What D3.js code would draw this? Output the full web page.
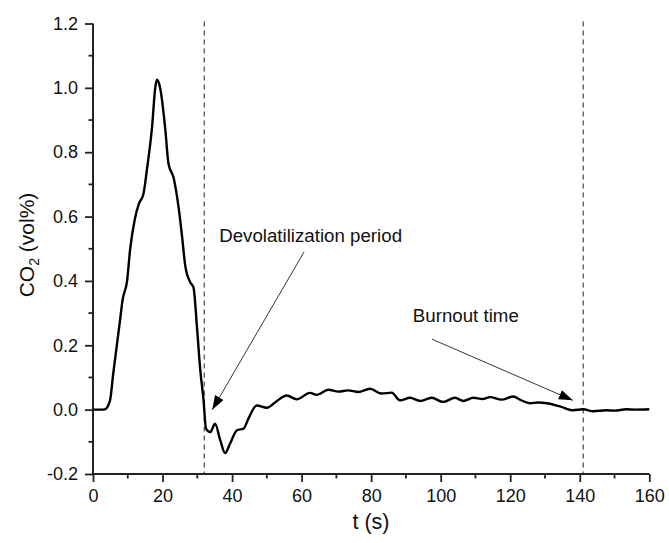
<!DOCTYPE html>
<html>
<head>
<meta charset="utf-8">
<script src="https://cdn.jsdelivr.net/npm/d3@7"></script>
<style>
  html, body { margin: 0; padding: 0; background: #fff; }
  svg { display: block; font-family: "Liberation Sans", Arial, sans-serif; }
</style>
</head>
<body>
<svg id="chart" width="669" height="543"></svg>
<script>
// ---- data ----
const timeS = [0, 2, 3.4, 4.9, 5.8, 6.8, 7.8, 8.5, 9.8, 10.7, 12, 13.2, 14.5, 15.5, 17, 17.9, 18.4, 19.3, 20.8, 21.7,
  23.2, 24.6, 25.6, 26.5, 27.9, 28.9, 29.9, 30.8, 31.8, 32.5, 33.7, 35.1, 36.6, 38, 39.4, 41.4, 43.3, 44.7, 47.1, 50,
  52.9, 55.7, 58.6, 62.4, 64.4, 67.7, 70.6, 73.4, 76.3, 79.7, 83, 85.9, 88.3, 91.2, 94.1, 97.4, 100.7, 104.1, 106.5,
  109.4, 112, 114.2, 117.5, 120.9, 123, 125.7, 128, 130.5, 134.3, 138.1, 141, 143.9, 147.7, 150, 153.4, 156, 160];
const co2 = [0, 0, 0.001, 0.029, 0.11, 0.195, 0.28, 0.34, 0.40, 0.50, 0.59, 0.64, 0.67, 0.745, 0.88, 1.0, 1.025, 1.0, 0.87, 0.765,
  0.72, 0.63, 0.54, 0.45, 0.397, 0.38, 0.257, 0.13, 0.029, -0.059, -0.07, -0.044, -0.095, -0.135, -0.106, -0.064, -0.059, -0.028, 0.013, 0.006,
  0.027, 0.044, 0.032, 0.052, 0.046, 0.062, 0.056, 0.06, 0.055, 0.065, 0.05, 0.053, 0.029, 0.037, 0.027, 0.037, 0.024, 0.037, 0.027,
  0.037, 0.033, 0.039, 0.031, 0.041, 0.03, 0.02, 0.022, 0.02, 0.01, -0.002, 0.001, -0.005, -0.002, -0.003, 0.001, 0.0, 0.001];
const xTicks = [0, 20, 40, 60, 80, 100, 120, 140, 160];
const yTicks = [-0.2, 0.0, 0.2, 0.4, 0.6, 0.8, 1.0, 1.2];
const markerTimes = [32, 141];
const annotations = [
  { label: "Devolatilization period", tx: 36.3, ty: 0.52, x0: 60.7, y0: 0.49, x1: 34.3, y1: 0.0 },
  { label: "Burnout time", tx: 92.0, ty: 0.272, x0: 97.5, y0: 0.219, x1: 138, y1: 0.029 }
];

// ---- layout ----
const svg = d3.select("#chart");
const mLeft = 93, mRight = 649.3, mTop = 23.5, mBottom = 474;
const x = d3.scaleLinear().domain([0, 160]).range([mLeft, mRight]);
const y = d3.scaleLinear().domain([-0.2, 1.2]).range([mBottom, mTop]);

// dashed markers
svg.selectAll("line.marker").data(markerTimes).join("line")
  .attr("class", "marker")
  .attr("x1", d => x(d)).attr("x2", d => x(d))
  .attr("y1", y(1.2) - 2).attr("y2", y(-0.2))
  .attr("stroke", "#555").attr("stroke-width", 1.3).attr("stroke-dasharray", "5,4");

// axes
const xMinor = d3.range(10, 160, 20);
const yMinor = d3.range(-0.1, 1.2, 0.2);
const axG = svg.append("g").attr("stroke", "#222");
axG.append("line").attr("x1", mLeft).attr("x2", mRight).attr("y1", mBottom).attr("y2", mBottom).attr("stroke-width", 2);
axG.append("line").attr("x1", mLeft).attr("x2", mLeft).attr("y1", mTop).attr("y2", mBottom).attr("stroke-width", 2);

const xAxis = d3.axisBottom(x).tickValues(xTicks).tickFormat(d3.format("d")).tickSizeInner(8).tickSizeOuter(0).tickPadding(7);
const gx = svg.append("g").attr("transform", `translate(0,${mBottom})`).call(xAxis);
gx.select(".domain").remove();
gx.selectAll(".tick line").attr("stroke", "#222").attr("stroke-width", 1.8);
gx.selectAll(".tick text").attr("font-size", 18).attr("fill", "#111").attr("font-family", "Liberation Sans, Arial, sans-serif");
svg.append("g").selectAll("line").data(xMinor).join("line")
  .attr("x1", d => x(d)).attr("x2", d => x(d)).attr("y1", mBottom).attr("y2", mBottom + 4.5)
  .attr("stroke", "#222").attr("stroke-width", 1.8);

const yAxis = d3.axisLeft(y).tickValues(yTicks).tickFormat(d3.format(".1f")).tickSizeInner(8).tickSizeOuter(0).tickPadding(7);
const gy = svg.append("g").attr("transform", `translate(${mLeft},0)`).call(yAxis);
gy.select(".domain").remove();
gy.selectAll(".tick line").attr("stroke", "#222").attr("stroke-width", 1.8);
gy.selectAll(".tick text").attr("font-size", 18).attr("fill", "#111").attr("font-family", "Liberation Sans, Arial, sans-serif")
  .text(d => d3.format(".1f")(d).replace("−", "-"));
svg.append("g").selectAll("line").data(yMinor).join("line")
  .attr("x1", mLeft - 4.5).attr("x2", mLeft).attr("y1", d => y(d)).attr("y2", d => y(d))
  .attr("stroke", "#222").attr("stroke-width", 1.8);

// axis titles
svg.append("text").attr("x", 371).attr("y", 529).attr("text-anchor", "middle")
  .attr("font-size", 21.5).attr("fill", "#111").text("t (s)");
const yt = svg.append("text").attr("transform", `translate(34,${245}) rotate(-90)`).attr("text-anchor", "middle")
  .attr("font-size", 21).attr("fill", "#111");
yt.append("tspan").text("CO");
yt.append("tspan").attr("font-size", 14).attr("dy", 5).text("2");
yt.append("tspan").attr("dy", -5).text(" (vol%)");

// data line
const pts = timeS.map((t, i) => [t, co2[i]]);
svg.append("path").datum(pts)
  .attr("fill", "none").attr("stroke", "#000").attr("stroke-width", 2.4).attr("stroke-linejoin", "round")
  .attr("d", d3.line().x(d => x(d[0])).y(d => y(d[1])).curve(d3.curveMonotoneX));

// annotations
const defs = svg.append("defs");
defs.append("marker").attr("id", "ah").attr("viewBox", "0 0 14 10").attr("refX", 14).attr("refY", 5)
  .attr("markerWidth", 14).attr("markerHeight", 10).attr("markerUnits", "userSpaceOnUse").attr("orient", "auto")
  .append("path").attr("d", "M0,0 L14,5 L0,10 Z").attr("fill", "#000");
const ann = svg.append("g");
ann.selectAll("line").data(annotations).join("line")
  .attr("x1", d => x(d.x0)).attr("y1", d => y(d.y0)).attr("x2", d => x(d.x1)).attr("y2", d => y(d.y1))
  .attr("stroke", "#333").attr("stroke-width", 1).attr("marker-end", "url(#ah)");
ann.selectAll("text").data(annotations).join("text")
  .attr("x", d => x(d.tx)).attr("y", d => y(d.ty))
  .attr("font-size", 18.7).attr("fill", "#111").text(d => d.label);
</script>
</body>
</html>
